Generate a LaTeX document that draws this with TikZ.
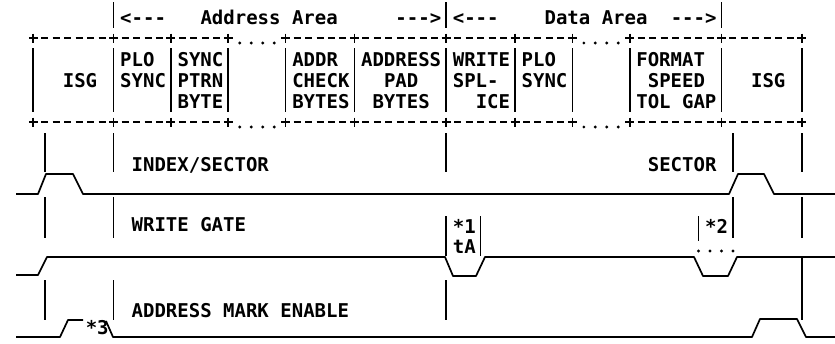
\documentclass[tikz,border=0pt]{standalone}
\usepackage{fontspec}
\setmonofont{DejaVu Sans Mono}
\newcommand\cx[1]{33.3+11.47*(#1)}

\begin{document}
\begin{tikzpicture}[
    x=1pt, y=-1pt,
    line width=1.7pt,
    every node/.style={
        font=\ttfamily\bfseries\fontsize{19}{21}\selectfont,
        inner sep=0pt,
        anchor=base west
    },
    boxline/.style={dash pattern=on 7pt off 4.47pt},
    signal/.style={line join=round}
]
\useasboundingbox (0,0) rectangle (835,343);

% area header
\foreach \c in {7,36,60}
    \draw ({\cx{\c}},2) -- ({\cx{\c}},28);
\node (addrleft)  at ({\cx{8}-5.7},24)  {<---};
\node (addrlabel) at ({\cx{15}-5.7},24) {Address Area};
\node (addrright) at ({\cx{32}-5.7},24) {--->};
\node (dataleft)  at ({\cx{37}-5.7},24) {<---};
\node (datalabel) at ({\cx{45}-5.7},24) {Data Area};
\node (dataright) at ({\cx{56}-5.7},24) {--->};

% field boxes
\foreach \y in {38,122} {
    \draw[boxline] ({\cx{1}-3.5},\y) -- ({\cx{16}+3.5},\y);
    \draw[boxline] ({\cx{23}-3.5},\y) -- ({\cx{46}+3.5},\y);
    \draw[boxline] ({\cx{53}-3.5},\y) -- ({\cx{66}+3.5},\y);
    \foreach \c in {18,19,20,21,48,49,50,51}
        \fill ({\cx{\c}},\y+5) circle (1.6pt);
    \foreach \c in {0,7,12,17,22,28,36,42,47,52,60,67}
        \draw ({\cx{\c}-4.5},\y) -- ({\cx{\c}+4.5},\y)
              ({\cx{\c}},\y-4.5) -- ({\cx{\c}},\y+4.5);
}
\foreach \c in {0,7,12,17,22,28,36,42,47,52,60,67}
    \draw ({\cx{\c}},48) -- ({\cx{\c}},112);

\node (isgleft)   at ({\cx{3}-5.7},87)   {ISG};
\node (plo)       at ({\cx{8}-5.7},66)   {PLO};
\node (plosync)   at ({\cx{8}-5.7},87)   {SYNC};
\node (sync)      at ({\cx{13}-5.7},66)  {SYNC};
\node (ptrn)      at ({\cx{13}-5.7},87)  {PTRN};
\node (byte)      at ({\cx{13}-5.7},108) {BYTE};
\node (addr)      at ({\cx{23}-5.7},66)  {ADDR};
\node (check)     at ({\cx{23}-5.7},87)  {CHECK};
\node (checkbytes) at ({\cx{23}-5.7},108) {BYTES};
\node (address)   at ({\cx{29}-5.7},66)  {ADDRESS};
\node (pad)       at ({\cx{31}-5.7},87)  {PAD};
\node (padbytes)  at ({\cx{30}-5.7},108) {BYTES};
\node (write)     at ({\cx{37}-5.7},66)  {WRITE};
\node (spl)       at ({\cx{37}-5.7},87)  {SPL-};
\node (ice)       at ({\cx{39}-5.7},108) {ICE};
\node (plodata)   at ({\cx{43}-5.7},66)  {PLO};
\node (syncdata)  at ({\cx{43}-5.7},87)  {SYNC};
\node (format)    at ({\cx{53}-5.7},66)  {FORMAT};
\node (speed)     at ({\cx{54}-5.7},87)  {SPEED};
\node (tolgap)    at ({\cx{53}-5.7},108) {TOL GAP};
\node (isgright)  at ({\cx{63}-5.7},87)  {ISG};

% timing lines
\foreach \c in {1,7,36,61,67}
    \draw ({\cx{\c}},133) -- ({\cx{\c}},172);
\foreach \c in {1,7,61,67}
    \draw ({\cx{\c}},197) -- ({\cx{\c}},238);
\foreach \c in {36,39}
    \draw ({\cx{\c}},216) -- ({\cx{\c}},256);
\draw ({\cx{58}},216) -- ({\cx{58}},241);
\foreach \c in {1,7,36}
    \draw ({\cx{\c}},280) -- ({\cx{\c}},320);
\draw ({\cx{67}},258) -- ({\cx{67}},320);

\draw[signal] (16,194) -- (38,194) -- (46,174) -- (73,174) -- (83,194)
    -- (729,194) -- (738,174) -- (764,174) -- (774,194) -- (835,194);
\draw[signal] (16,275) -- (38,275) -- (47,257) -- (445,257) -- (453,276)
    -- (476,276) -- (485,257) -- (694,257) -- (703,276) -- (728,276)
    -- (737,257) -- (835,257);
\foreach \c in {58,59,60,61}
    \fill ({\cx{\c}},251) circle (1.6pt);
\draw[signal] (16,337) -- (60,337) -- (68,320) -- (83,320);
\draw[signal] (106,321) -- (113,337) -- (752,337) -- (760,319)
    -- (797,319) -- (806,337) -- (835,337);

\node (index)  at ({\cx{9}-5.7},171)  {INDEX/SECTOR};
\node (sector) at ({\cx{54}-5.7},171) {SECTOR};
\node (wgate)  at ({\cx{9}-5.7},231)  {WRITE GATE};
\node (noteone) at ({\cx{37}-5.7},233) {*1};
\node (ta)     at ({\cx{37}-5.7},253) {tA};
\node (notetwo) at ({\cx{59}-5.7},233) {*2};
\node (amenable) at ({\cx{9}-5.7},317) {ADDRESS MARK ENABLE};
\node (notethree) at ({\cx{5}-5.7},334) {*3};
\end{tikzpicture}
\end{document}
